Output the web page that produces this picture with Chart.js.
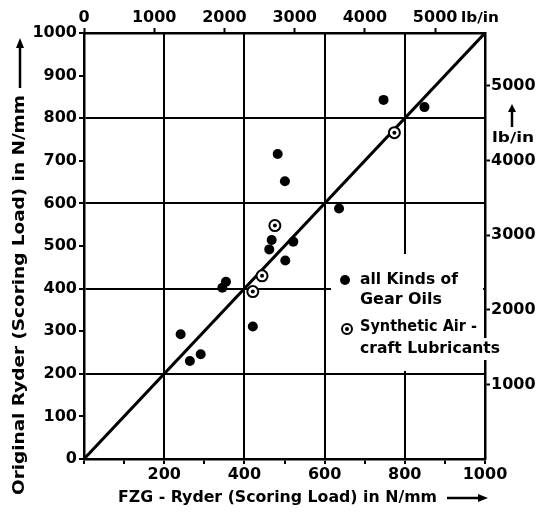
<!DOCTYPE html>
<html>
<script src="https://cdn.jsdelivr.net/npm/chart.js@4/dist/chart.umd.min.js"></script>
<body style="margin:0;background:#fff">

<canvas id="myChart" width="536" height="513"></canvas>

<script>
// FZG-Ryder vs original Ryder scoring load, N/mm
var gearX  = [241, 264, 291, 345, 354, 421, 462, 468, 483, 501, 502, 522, 636, 747, 849];
var gearY  = [293, 230, 246, 402, 416, 311, 492, 514, 716, 652, 466, 510, 588, 843, 826];
var synthX = [421, 444, 476, 774];
var synthY = [393, 430, 548, 766];
var lineX  = [0, 1000];
var lineY  = [0, 1000];
var lbTicks = [0, 1000, 2000, 3000, 4000, 5000];
var lbMax = 5710; // 1000 N/mm in lb/in

var FONT = "'DejaVu Sans', sans-serif";

function pts (xs, ys) {
  return xs.map(function (x, i) { return {x: x, y: ys[i]} });
}

// draw text stretched to a given width
function fitText (ctx, txt, x, y, w) {
  var m = ctx.measureText(txt).width;
  ctx.save();
  ctx.translate(x, y);
  ctx.scale(w / m, 1);
  ctx.fillText(txt, 0, 0);
  ctx.restore();
}

function arrow (ctx, x1, y1, x2, y2, head) {
  var a = Math.atan2(y2 - y1, x2 - x1);
  ctx.beginPath();
  ctx.moveTo(x1, y1);
  ctx.lineTo(x2 - head * Math.cos(a), y2 - head * Math.sin(a));
  ctx.stroke();
  ctx.beginPath();
  ctx.moveTo(x2, y2);
  ctx.lineTo(x2 - head * Math.cos(a) + 4 * Math.sin(a), y2 - head * Math.sin(a) - 4 * Math.cos(a));
  ctx.lineTo(x2 - head * Math.cos(a) - 4 * Math.sin(a), y2 - head * Math.sin(a) + 4 * Math.cos(a));
  ctx.closePath();
  ctx.fill();
}

var decor = {
  id: 'decor',
  afterDraw: function (chart) {
    var ctx = chart.ctx;
    ctx.save();
    ctx.fillStyle = '#000';
    ctx.strokeStyle = '#000';
    ctx.lineWidth = 2.5;
    ctx.textBaseline = 'middle';
    ctx.textAlign = 'left';

    // legend box
    ctx.fillStyle = '#fff';
    ctx.fillRect(331, 254, 152, 117);
    ctx.fillRect(355, 338, 148, 22);
    ctx.fillStyle = '#000';
    ctx.beginPath(); ctx.arc(345, 280, 5, 0, Math.PI * 2); ctx.fill();
    ctx.beginPath(); ctx.arc(347, 329, 5, 0, Math.PI * 2); ctx.lineWidth = 2; ctx.stroke();
    ctx.beginPath(); ctx.arc(347, 329, 2, 0, Math.PI * 2); ctx.fill();
    ctx.font = 'bold 15px ' + FONT;
    fitText(ctx, 'all Kinds of', 360, 280, 98);
    fitText(ctx, 'Gear Oils', 360, 300, 82);
    fitText(ctx, 'Synthetic Air -', 360, 327, 117);
    fitText(ctx, 'craft Lubricants', 360, 349, 140);

    // top unit
    ctx.font = 'bold 14px ' + FONT;
    fitText(ctx, 'lb/in', 461, 18, 38);
    // right unit with arrow
    fitText(ctx, 'lb/in', 492, 138, 42);
    ctx.lineWidth = 2.5;
    arrow(ctx, 512, 127, 512, 104, 8);

    // bottom title
    ctx.font = 'bold 16px ' + FONT;
    fitText(ctx, 'FZG - Ryder (Scoring Load) in N/mm', 118, 498, 319);
    arrow(ctx, 447, 498, 488, 498, 10);

    // left title
    ctx.save();
    ctx.translate(20, 0);
    ctx.rotate(-Math.PI / 2);
    fitText(ctx, 'Original Ryder (Scoring Load) in N/mm', -495, 0, 400);
    arrow(ctx, -88, 0, -38, 0, 10);
    ctx.restore();

    ctx.restore();
  }
};

function gridColor (ctx) {
  return ctx.tick && ctx.tick.value % 200 === 0 ? '#000' : 'rgba(0,0,0,0)';
}

function plain (v) { return String(v) }

var tickFont = {family: FONT, size: 16, weight: 'bold'};

new Chart('myChart', {
  type: 'scatter',
  data: {
    datasets: [{
      type: 'line',
      data: pts(lineX, lineY),
      borderColor: '#000',
      borderWidth: 3,
      pointRadius: 0,
      order: 4
    }, {
      label: 'all Kinds of Gear Oils',
      data: pts(gearX, gearY),
      backgroundColor: '#000',
      borderWidth: 0,
      pointRadius: 5,
      order: 3
    }, {
      label: 'Synthetic Aircraft Lubricants',
      data: pts(synthX, synthY),
      backgroundColor: '#fff',
      borderColor: '#000',
      borderWidth: 2,
      pointRadius: 5.5,
      order: 2
    }, {
      data: pts(synthX, synthY),
      backgroundColor: '#000',
      borderWidth: 0,
      pointRadius: 2,
      order: 1
    }]
  },
  options: {
    responsive: false,
    animation: false,
    layout: {padding: 0},
    plugins: {legend: {display: false}, tooltip: {enabled: false}},
    scales: {
      x: {
        type: 'linear', position: 'bottom', min: 0, max: 1000,
        afterFit: function (s) { s.height = 54 },
        ticks: {
          stepSize: 100, autoSkip: false, maxRotation: 0, color: '#000', font: tickFont, padding: 1,
          callback: function (v) { return v % 200 === 0 && v > 0 ? String(v) : '' }
        },
        grid: {color: gridColor, lineWidth: 2, tickColor: '#000', tickWidth: 2, tickLength: 5},
        border: {color: '#000', width: 2.5}
      },
      y: {
        type: 'linear', position: 'left', min: 0, max: 1000,
        afterFit: function (s) { s.width = 84 },
        ticks: {stepSize: 100, autoSkip: false, color: '#000', font: tickFont, padding: 2, callback: plain},
        grid: {color: gridColor, lineWidth: 2, tickColor: '#000', tickWidth: 2, tickLength: 5},
        border: {color: '#000', width: 2.5}
      },
      x2: {
        type: 'linear', position: 'top', min: 0, max: lbMax,
        afterFit: function (s) { s.height = 33 },
        afterBuildTicks: function (s) { s.ticks = lbTicks.map(function (v) { return {value: v} }) },
        ticks: {color: '#000', font: tickFont, padding: 1, callback: plain},
        grid: {drawOnChartArea: false, tickColor: '#000', tickWidth: 2, tickLength: 5},
        border: {color: '#000', width: 2.5}
      },
      y2: {
        type: 'linear', position: 'right', min: 0, max: lbMax,
        afterFit: function (s) { s.width = 51 },
        afterBuildTicks: function (s) {
          s.ticks = lbTicks.filter(function (v) { return v > 0 }).map(function (v) { return {value: v} })
        },
        ticks: {color: '#000', font: tickFont, padding: 1, callback: plain},
        grid: {drawOnChartArea: false, tickColor: '#000', tickWidth: 2, tickLength: 5},
        border: {color: '#000', width: 2.5}
      }
    }
  },
  plugins: [decor]
});
</script>

</body>
</html>
